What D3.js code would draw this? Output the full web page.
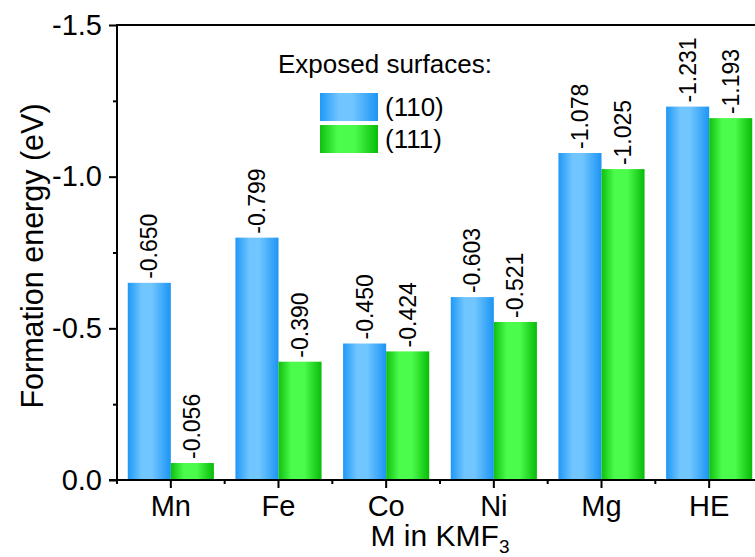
<!DOCTYPE html>
<html>
<head>
<meta charset="utf-8">
<script src="https://cdn.jsdelivr.net/npm/d3@7"></script>
<style>
  html, body { margin: 0; padding: 0; background: #fff; }
  svg { display: block; font-family: "Liberation Sans", Arial, sans-serif; }
</style>
</head>
<body>
<svg id="chart" width="755" height="557"></svg>
<script>
const categories = ["Mn", "Fe", "Co", "Ni", "Mg", "HE"];
const seriesNames = ["(110)", "(111)"];
const values110 = [-0.650, -0.799, -0.450, -0.603, -1.078, -1.231];
const values111 = [-0.056, -0.390, -0.424, -0.521, -1.025, -1.193];
const yMajorTicks = [0, -0.5, -1.0, -1.5];
const yMinorTicks = [-0.25, -0.75, -1.25];
const legendTitle = "Exposed surfaces:";
const yTitle = "Formation energy (eV)";

const seriesValues = [values110, values111];

(function () {
const svg = d3.select("#chart");
const pLeft = 117, pRight = 763, pTop = 25, pBottom = 480;

const x0 = d3.scaleBand().domain(categories).range([pLeft, pRight]).padding(0);
const x1 = d3.scaleBand().domain(seriesNames).range([0, x0.bandwidth()]).paddingInner(0).paddingOuter(0.25);
const y = d3.scaleLinear().domain([0, -1.5]).range([pBottom, pTop]);

// gradients
const defs = svg.append("defs");
const gradStops = {
  "(110)": [[0, "#1f98f6"], [0.33, "#72c6ff"], [0.55, "#72c6ff"], [1, "#1c95f4"]],
  "(111)": [[0, "#10c010"], [0.3, "#4cfc4c"], [0.6, "#4cfc4c"], [1, "#08bc08"]]
};
seriesNames.forEach((s, i) => {
  const g = defs.append("linearGradient").attr("id", "grad" + i)
    .attr("x1", "0%").attr("x2", "100%").attr("y1", "0%").attr("y2", "0%");
  gradStops[s].forEach(([o, c]) => g.append("stop").attr("offset", o).attr("stop-color", c));
});

// bars
const groups = svg.append("g").selectAll("g").data(categories).join("g")
  .attr("transform", d => `translate(${x0(d)},0)`);

seriesNames.forEach((s, si) => {
  groups.append("rect")
    .attr("x", x1(s))
    .attr("width", x1.bandwidth())
    .attr("y", (d, ci) => y(seriesValues[si][ci]))
    .attr("height", (d, ci) => y(0) - y(seriesValues[si][ci]))
    .attr("fill", `url(#grad${si})`);
  groups.append("text")
    .attr("transform", (d, ci) => `translate(${x1(s) + x1.bandwidth() / 2 + 8},${y(seriesValues[si][ci]) - 4}) rotate(-90)`)
    .attr("font-size", 23)
    .attr("fill", "#000")
    .text((d, ci) => seriesValues[si][ci].toFixed(3));
});

// left axis
const yAxis = svg.append("g").attr("transform", `translate(${pLeft},0)`)
  .call(d3.axisLeft(y).tickValues(yMajorTicks).tickSize(8).tickPadding(7).tickFormat(d => d.toFixed(1)));
yAxis.select(".domain").attr("d", `M0,${pTop}V${pBottom + 1}`);
yAxis.selectAll("path,line").attr("stroke", "#000").attr("stroke-width", 2);
yAxis.selectAll("text").attr("font-size", 29).attr("fill", "#000").attr("font-family", "Liberation Sans, Arial, sans-serif");
svg.append("g").attr("transform", `translate(${pLeft},0)`)
  .call(d3.axisLeft(y).tickValues(yMinorTicks).tickSize(4).tickFormat(""))
  .call(g => g.select(".domain").remove())
  .selectAll("line").attr("stroke", "#000").attr("stroke-width", 2);

// bottom axis
const xAxis = svg.append("g").attr("transform", `translate(0,${pBottom})`)
  .call(d3.axisBottom(x0).tickSize(8).tickPadding(7));
xAxis.select(".domain").attr("d", `M${pLeft - 8},0H${pRight}`);
xAxis.selectAll("path,line").attr("stroke", "#000").attr("stroke-width", 2);
xAxis.selectAll("text").attr("font-size", 29).attr("fill", "#000").attr("font-family", "Liberation Sans, Arial, sans-serif");
const boundaries = categories.map(c => x0(c)).concat([pRight]);
svg.append("g").selectAll("line").data(boundaries).join("line")
  .attr("x1", d => d).attr("x2", d => d)
  .attr("y1", pBottom).attr("y2", pBottom + 4)
  .attr("stroke", "#000").attr("stroke-width", 2);

// top frame line
svg.append("line").attr("x1", pLeft - 1).attr("x2", pRight).attr("y1", pTop).attr("y2", pTop)
  .attr("stroke", "#000").attr("stroke-width", 2);
svg.append("line").attr("x1", pRight).attr("x2", pRight).attr("y1", pTop).attr("y2", pBottom)
  .attr("stroke", "#000").attr("stroke-width", 2);

// axis titles
const xt = svg.append("text").attr("x", (pLeft + pRight) / 2).attr("y", 546)
  .attr("text-anchor", "middle").attr("font-size", 30).attr("fill", "#000");
xt.append("tspan").text("M in KMF");
xt.append("tspan").attr("font-size", 19).attr("dy", 7).text("3");

svg.append("text").attr("transform", `translate(43,256) rotate(-90)`)
  .attr("text-anchor", "middle").attr("font-size", 30.5).attr("fill", "#000").text(yTitle);

// legend
svg.append("text").attr("x", 278).attr("y", 73).attr("font-size", 26).attr("fill", "#000").text(legendTitle);
const leg = svg.append("g").selectAll("g").data(seriesNames).join("g")
  .attr("transform", (d, i) => `translate(320,${93 + i * 32})`);
leg.append("rect").attr("width", 58).attr("height", 28).attr("fill", (d, i) => `url(#grad${i})`);
leg.append("text").attr("x", 65).attr("y", 23).attr("font-size", 26).attr("fill", "#000").text(d => d);
})();
</script>
</body>
</html>
